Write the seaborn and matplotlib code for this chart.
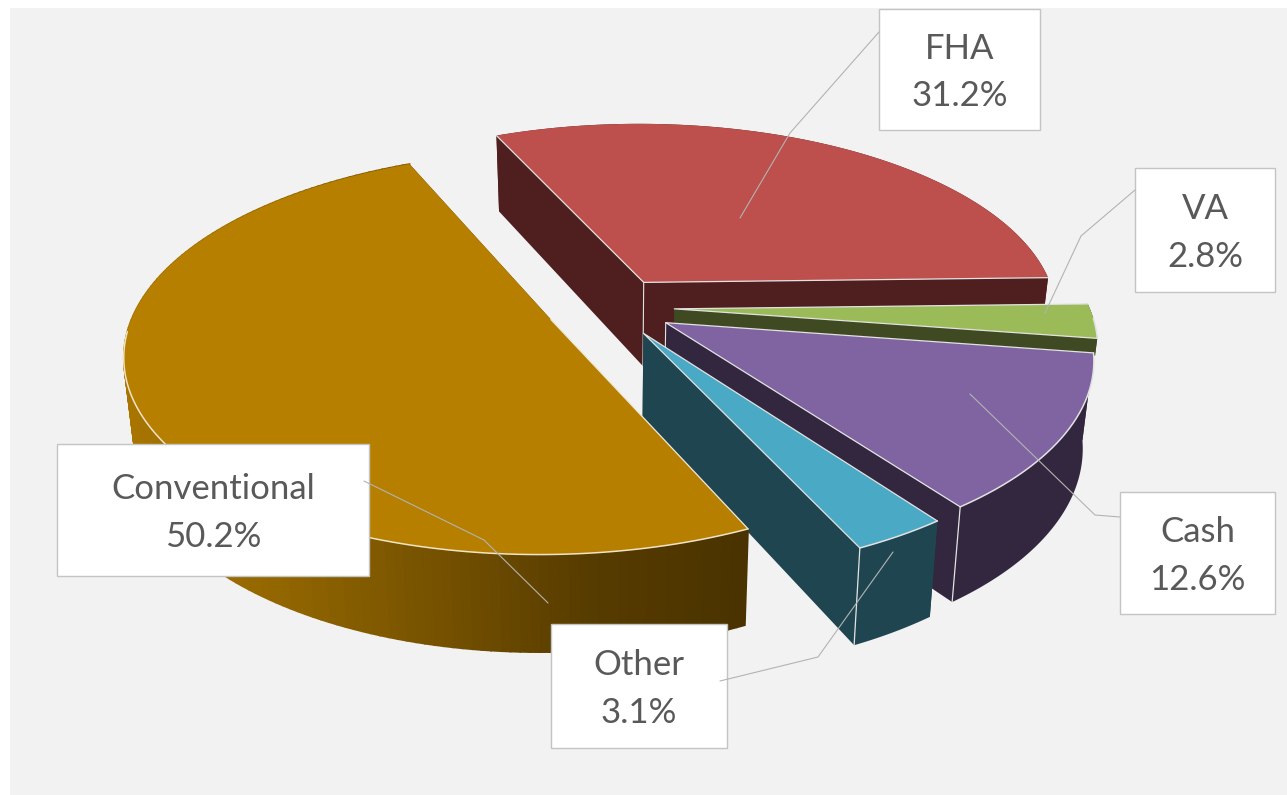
import numpy as np
import matplotlib
matplotlib.use('Agg')
import matplotlib.pyplot as plt
import seaborn as sns

labels = ['FHA', 'VA', 'Cash', 'Other', 'Conventional']
shares = [31.2, 2.8, 12.6, 3.1, 50.2]

top_colors = ['#bd4f4c', '#9bbb59', '#8064a2', '#4aa9c4', '#b67f00']
side_colors = ['#4e1f1e', '#3f4a22', '#33273f', '#1f4650', '#4a3300']
gradient_stops = ['#a87500', '#916500', '#765200', '#573c00', '#4a3300']

# label boxes (x0, y0, x1, y1) and leader lines, in picture pixels
boxes = [(879, 9, 1040, 130), (1135, 168, 1275, 292), (1120, 492, 1275, 614),
         (551, 624, 727, 748), (57, 444, 369, 576)]
leaders = [[(740, 218), (790, 133), (879, 32)],
           [(1045, 313), (1081, 236), (1135, 190)],
           [(970, 394), (1095, 515), (1120, 517)],
           [(893, 552), (818, 657), (720, 681)],
           [(548, 603), (484, 540), (364, 481)]]

# view of the pie
cx, cy = 610, 307
rx, ry = 415, 192
persp = 0.164
depth = 85
squeeze = 0.977
explode = 0.155
start = 113.8
# VA wall is mostly hidden behind Cash in the picture
wall_scale = [1, 0.2, 1, 1, 1]

sns.set_theme(style='white')
plt.rcParams['font.family'] = ['Lato', 'DejaVu Sans']


def project(x, y):
    s = 1 / (1 + persp * y)
    return cx + rx * x * s, cy - ry * y * s, s


def lower(px, py, s, scale=1):
    return cx + (px - cx) * (1 - (1 - squeeze) * scale), py + depth * s ** 0.72 * scale


def outline(t0, t1, dx, dy, n=160):
    t = np.linspace(t0, t1, n)
    r = np.radians(t)
    px, py, s = project(np.cos(r) + dx, np.sin(r) + dy)
    return px, py, s, t


fig = plt.figure(figsize=(12.87, 7.95), dpi=100, facecolor='white')
ax = fig.add_axes([0, 0, 1, 1])
ax.set_xlim(0, 1287)
ax.set_ylim(795, 0)
ax.axis('off')
ax.fill([10, 1287, 1287, 10], [8, 8, 795, 795], color='#f2f2f2', lw=0, zorder=0)

edge = '#e2e2e2'
bounds = start - np.concatenate([[0], np.cumsum(shares)]) * 3.6

for i in range(len(shares)):
    t0, t1 = bounds[i], bounds[i + 1]
    mid = np.radians((t0 + t1) / 2)
    dx, dy = explode * np.cos(mid), explode * np.sin(mid)
    apex_x, apex_y, apex_s = project(dx, dy)
    low_ax, low_ay = lower(apex_x, apex_y, apex_s)
    px, py, s, t = outline(t0, t1, dx, dy)
    bx, by = lower(px, py, s, wall_scale[i])
    z = 2 + i

    # the two cut faces
    for k in (0, -1):
        fx, fy = lower(px[k], py[k], s[k], wall_scale[i])
        ax.fill([apex_x, px[k], fx, low_ax], [apex_y, py[k], fy, low_ay],
                color=side_colors[i], lw=0, zorder=z)
    if labels[i] not in ('Conventional', 'Other', 'VA'):
        ax.plot([apex_x, low_ax], [apex_y, low_ay], color=edge, lw=0.8, zorder=z)

    # outer wall, Conventional fades with x across the front
    if labels[i] == 'Conventional':
        n_cols = 200
        pal = sns.blend_palette(gradient_stops, n_colors=n_cols)
        xpos = (px - px.min()) / (px.max() - px.min())
        for j in range(len(px) - 1):
            c = pal[int(xpos[j] * (n_cols - 1))]
            ax.fill([px[j], px[j + 1], bx[j + 1], bx[j]], [py[j], py[j + 1], by[j + 1], by[j]],
                    facecolor=c, edgecolor=c, lw=1.2, zorder=z)
    else:
        ax.fill(np.r_[px, bx[::-1]], np.r_[py, by[::-1]], color=side_colors[i], lw=0, zorder=z)
        if labels[i] in ('Cash', 'Other'):
            ax.plot([px[-1], bx[-1]], [py[-1], by[-1]], color=edge, lw=0.9, zorder=z)

    # top of the slice, edge only along the front of the arc
    ax.fill(np.r_[apex_x, px], np.r_[apex_y, py], color=top_colors[i], lw=0, zorder=z)
    front = np.sin(np.radians(t)) < -0.05
    arc_color = '#f0e4c8' if labels[i] == 'Conventional' else edge
    ax.plot(px[front], py[front], color=arc_color, lw=1.1, zorder=z)
    if labels[i] != 'Conventional':
        ax.plot([px[0], apex_x, px[-1]], [py[0], apex_y, py[-1]], color=edge, lw=0.9, zorder=z)
    else:
        ax.plot([apex_x, px[0]], [apex_y, py[0]], color='#f0ebdd', lw=0.9, zorder=z)

for i, name in enumerate(labels):
    x0, y0, x1, y1 = boxes[i]
    ax.fill([x0, x1, x1, x0], [y0, y0, y1, y1], facecolor='white', edgecolor='#c4c4c4', lw=1, zorder=10)
    line = np.array(leaders[i])
    ax.plot(line[:, 0], line[:, 1], color='#b3b3b3', lw=0.8, zorder=11)
    ax.text((x0 + x1) / 2, (y0 + y1) / 2 + 3, f'{name}\n{shares[i]:.1f}%', ha='center', va='center',
            fontsize=25, color='#595959', linespacing=1.58, zorder=12)

fig.savefig('out.png', dpi=100)
